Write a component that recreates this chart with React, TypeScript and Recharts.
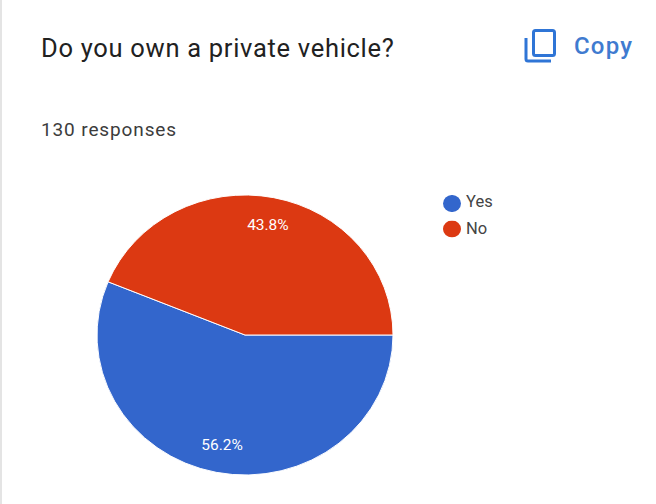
import React from 'react';
import { PieChart, Pie, Cell, Legend } from 'recharts';

const answers = ['Yes', 'No'];
const shares = [56.2, 43.8];
const sliceColors = ['#3366cc', '#dc3912'];

const tableData = answers.map((name, i) => ({ name, value: shares[i] }));

const RAD = Math.PI / 180;
const font = 'Roboto, sans-serif';

// percentage inside each slice, at 80% of the radius
const renderShare = (props: any) => {
  const { cx, cy, midAngle, outerRadius, value } = props;
  const r = outerRadius * 0.8;
  const x = cx + r * Math.cos(-midAngle * RAD);
  const y = cy + r * Math.sin(-midAngle * RAD);
  return (
    <text x={x} y={y} fill="#ffffff" fontSize={15.5} fontFamily={font} textAnchor="middle" dominantBaseline="central">
      {value.toFixed(1)}%
    </text>
  );
};

const App = () => {
  const start = shares[1] * 3.6;
  return (
    <div style={{ position: 'absolute', left: 0, top: 0, width: 656, height: 504, background: '#ffffff', overflow: 'hidden', fontFamily: font }}>
      <div style={{ position: 'absolute', left: 0, top: 0, width: 2, height: 504, background: '#e4e4e4' }} />
      <div style={{ position: 'absolute', left: 41, top: 33, fontSize: 25.5, letterSpacing: 0.7, color: '#212121', whiteSpace: 'nowrap' }}>
        Do you own a private vehicle?
      </div>
      <div style={{ position: 'absolute', left: 41, top: 118, fontSize: 19, letterSpacing: 0.88, color: '#3c3c3c', whiteSpace: 'nowrap' }}>
        130 responses
      </div>
      <svg width={36} height={40} style={{ position: 'absolute', left: 522, top: 26 }}>
        <rect x={11.5} y={4.5} width={21} height={25} rx={2} fill="none" stroke="#2f75d6" strokeWidth={3} />
        <path d="M4 12 V33 Q4 35 6 35 H29" fill="none" stroke="#2f75d6" strokeWidth={3} />
      </svg>
      <div style={{ position: 'absolute', left: 574, top: 32, fontSize: 24, fontWeight: 500, letterSpacing: 1.2, color: '#3f7bd0', whiteSpace: 'nowrap' }}>
        Copy
      </div>
      {/* slightly flattened pie, legend goes with it */}
      <div style={{ position: 'absolute', left: 0, top: 0, transform: 'scaleY(0.946)', transformOrigin: '0 335px' }}>
        <PieChart width={656} height={504} margin={{ top: 0, right: 0, bottom: 0, left: 0 }}>
          <Pie
            data={tableData}
            dataKey="value"
            nameKey="name"
            cx={245}
            cy={335}
            outerRadius={148}
            startAngle={start}
            endAngle={start + 360}
            stroke="#ffffff"
            strokeWidth={1}
            label={renderShare}
            labelLine={false}
            isAnimationActive={false}
          >
            {answers.map((a, i) => (
              <Cell key={a} fill={sliceColors[i]} />
            ))}
          </Pie>
          <Legend
            layout="vertical"
            align="right"
            verticalAlign="top"
            iconType="circle"
            iconSize={18}
            itemSorter={null}
            wrapperStyle={{ left: 443, right: 'auto', top: 181, width: 100, fontSize: 16.5, lineHeight: '27.5px' }}
            formatter={(v: string) => <span style={{ color: '#444444', marginLeft: 1 }}>{v}</span>}
          />
        </PieChart>
      </div>
    </div>
  );
};

export default App;
